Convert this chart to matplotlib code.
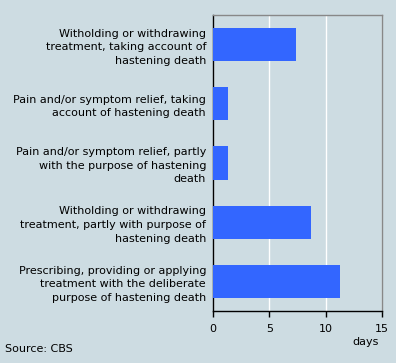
import matplotlib
matplotlib.use("Agg")
import matplotlib.pyplot as plt

# Data
labels = [
    "Witholding or withdrawing\ntreatment, taking account of\nhastening death",
    "Pain and/or symptom relief, taking\naccount of hastening death",
    "Pain and/or symptom relief, partly\nwith the purpose of hastening\ndeath",
    "Witholding or withdrawing\ntreatment, partly with purpose of\nhastening death",
    "Prescribing, providing or applying\ntreatment with the deliberate\npurpose of hastening death",
]
days = [7.4, 1.3, 1.3, 8.7, 11.3]
xticks = [0, 5, 10, 15]

bg = "#cddce2"
bar_color = "#3366ff"

fig = plt.figure(figsize=(3.96, 3.63), dpi=100, facecolor=bg)
ax = fig.add_axes([213 / 396, 1 - 311 / 363, 169 / 396, 296 / 363])
ax.set_facecolor(bg)

y = list(range(len(labels)))
ax.barh(y, days, height=0.56, color=bar_color, zorder=3)
ax.set_ylim(len(labels) - 0.5, -0.5)
ax.set_xlim(0, 15)

ax.set_xticks(xticks)
ax.set_xticklabels([str(t) for t in xticks], fontsize=8)
ax.set_yticks(y)
ax.set_yticklabels(labels, fontsize=8, linespacing=1.45)
ax.tick_params(axis="y", length=0, pad=5)
ax.tick_params(axis="x", length=4, width=1, direction="out", pad=5, colors="black")

ax.grid(axis="x", color="white", linewidth=1, zorder=0)
ax.set_axisbelow(True)

for side in ["left", "bottom"]:
    ax.spines[side].set_color("black")
    ax.spines[side].set_linewidth(1)
for side in ["top", "right"]:
    ax.spines[side].set_color("#888888")
    ax.spines[side].set_linewidth(1)

fig.text(366 / 396, 1 - 342 / 363, "days", fontsize=8, ha="center", va="center")
fig.text(5 / 396, 1 - 349 / 363, "Source: CBS", fontsize=8, ha="left", va="center")

fig.savefig("out.png", dpi=100, facecolor=bg)
